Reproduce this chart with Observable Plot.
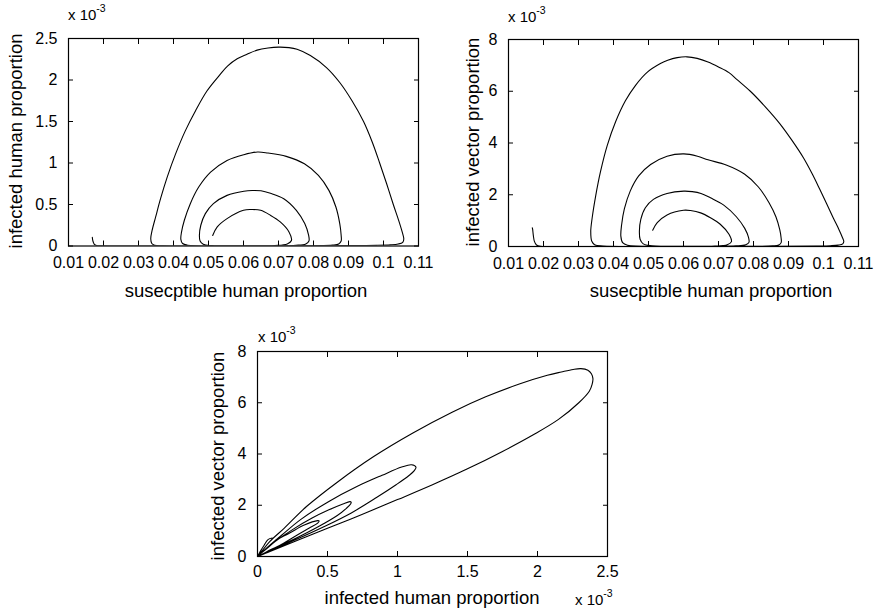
<!DOCTYPE html>
<html>
<head>
<meta charset="utf-8">
<script src="https://cdn.jsdelivr.net/npm/d3@7"></script>
<script src="https://cdn.jsdelivr.net/npm/@observablehq/plot@0.6"></script>
<style>
  body { margin: 0; background: #fff; }
  #fig { position: relative; width: 877px; height: 614px; overflow: hidden; background: #fff;
         font-family: "Liberation Sans", Arial, Helvetica, sans-serif; color: #000; }
  #fig svg { position: absolute; }
</style>
</head>
<body>
<div id="fig"></div>
<script>
// One simulated trajectory of the host–vector model, sampled in time.
// Infected proportions are in units of 1e-3.
const susceptible = [
  0.0168, 0.0169, 0.0171, 0.0174, 0.0180, 0.0192, 0.030, 0.050, 0.070, 0.088, 0.098,
  0.1020, 0.1042, 0.1055, 0.1058, 0.1054, 0.1044, 0.1028, 0.1009, 0.0989, 0.0968, 0.0943, 0.0910, 0.0875, 0.0837, 0.0791, 0.0753, 0.0730, 0.0700,
  0.0670, 0.0639, 0.0610, 0.0582, 0.0555, 0.0534, 0.0496, 0.0463, 0.0434, 0.0406, 0.0382, 0.0363, 0.0349, 0.0339, 0.0335, 0.0338, 0.0346, 0.0370,
  0.050, 0.070, 0.080, 0.0855, 0.0872,
  0.0879, 0.0879, 0.0875, 0.0864, 0.0844, 0.0814, 0.0774, 0.0722, 0.0670, 0.0640,
  0.0601, 0.0553, 0.0506, 0.0472, 0.0448, 0.0431, 0.0423, 0.0421, 0.0426, 0.0440,
  0.055, 0.068, 0.0750, 0.0778,
  0.0787, 0.0786, 0.0775, 0.0751, 0.0715, 0.0677, 0.0650, 0.0625,
  0.0601, 0.0553, 0.0514, 0.0491, 0.0478, 0.0474, 0.0476, 0.0485, 0.0510,
  0.060, 0.0690, 0.0725,
  0.0737, 0.0730, 0.0705, 0.0677, 0.0649, 0.0620,
  0.0600, 0.0553, 0.0525, 0.0512
];
const infectedHuman = [
  0.105, 0.075, 0.045, 0.020, 0.006, 0.001, 0, 0, 0.001, 0.004, 0.008,
  0.014, 0.024, 0.045, 0.085, 0.16, 0.30, 0.50, 0.75, 1.00, 1.25, 1.50, 1.75, 1.97, 2.15, 2.295, 2.37, 2.39, 2.396,
  2.385, 2.36, 2.31, 2.255, 2.17, 2.07, 1.87, 1.63, 1.39, 1.11, 0.83, 0.57, 0.35, 0.19, 0.087, 0.03, 0.01, 0.003,
  0, 0.001, 0.003, 0.010, 0.025,
  0.06, 0.13, 0.27, 0.47, 0.67, 0.85, 0.99, 1.08, 1.12, 1.132,
  1.10, 1.03, 0.89, 0.71, 0.51, 0.31, 0.17, 0.08, 0.03, 0.01,
  0.001, 0.002, 0.008, 0.025,
  0.06, 0.13, 0.27, 0.43, 0.57, 0.635, 0.665, 0.669,
  0.66, 0.61, 0.51, 0.39, 0.25, 0.13, 0.06, 0.02, 0.005,
  0.002, 0.006, 0.025,
  0.066, 0.17, 0.29, 0.37, 0.43, 0.44,
  0.43, 0.33, 0.23, 0.127
];
const infectedVector = [
  0.72, 0.66, 0.42, 0.20, 0.06, 0.01, 0, 0, 0.002, 0.008, 0.018,
  0.030, 0.053, 0.10, 0.19, 0.35, 0.66, 1.10, 1.65, 2.22, 2.80, 3.42, 4.10, 4.75, 5.35, 6.00, 6.45, 6.72, 6.94,
  7.13, 7.27, 7.33, 7.30, 7.20, 7.07, 6.73, 6.23, 5.63, 4.82, 3.90, 2.90, 1.95, 1.10, 0.58, 0.20, 0.07, 0.02,
  0.002, 0.002, 0.007, 0.025, 0.06,
  0.15, 0.32, 0.65, 1.15, 1.70, 2.30, 2.80, 3.15, 3.35, 3.49,
  3.58, 3.49, 3.17, 2.73, 2.15, 1.45, 0.82, 0.40, 0.15, 0.05,
  0.005, 0.006, 0.024, 0.07,
  0.16, 0.34, 0.70, 1.15, 1.60, 1.88, 2.05, 2.12,
  2.14, 2.05, 1.82, 1.50, 1.05, 0.60, 0.28, 0.10, 0.03,
  0.005, 0.016, 0.07,
  0.19, 0.47, 0.86, 1.11, 1.30, 1.39,
  1.40, 1.22, 0.92, 0.63
];

// Axis ticks
const susceptibleTicks = [0.01, 0.02, 0.03, 0.04, 0.05, 0.06, 0.07, 0.08, 0.09, 0.1, 0.11];
const humanTicks = [0, 0.5, 1, 1.5, 2, 2.5];
const vectorTicks = [0, 2, 4, 6, 8];

const trajectory = susceptible.map((s, i) => ({s, ih: infectedHuman[i], iv: infectedVector[i]}));

const fig = document.getElementById("fig");
const FONT = '"Liberation Sans", Arial, Helvetica, sans-serif';

function panel({x, y, xDomain, yDomain, xTicks, yTicks, left, top, width, height, xPad}) {
  const mL = 60, mT = 10, mR = 10, mB = 40;
  const chart = Plot.plot({
    width: mL + width + mR,
    height: mT + height + mB,
    marginLeft: mL, marginTop: mT, marginRight: mR, marginBottom: mB,
    x: {domain: xDomain},
    y: {domain: yDomain},
    style: {fontFamily: FONT, fontSize: "16px", color: "black", background: "transparent", overflow: "visible"},
    marks: [
      Plot.line(trajectory, {x, y, stroke: "black", strokeWidth: 1.1, curve: "catmull-rom", clip: true}),
      Plot.frame({stroke: "black", strokeWidth: 1.2}),
      // inward ticks on all four sides
      Plot.axisX(xTicks, {anchor: "bottom", tickSize: 5, dy: -5, fill: "none", label: null}),
      Plot.axisX(xTicks, {anchor: "top", tickSize: 5, dy: 5, fill: "none", label: null}),
      Plot.axisY(yTicks, {anchor: "left", tickSize: 5, dx: 5, fill: "none", label: null}),
      Plot.axisY(yTicks, {anchor: "right", tickSize: 5, dx: -5, fill: "none", label: null}),
      // tick labels
      Plot.axisX(xTicks, {anchor: "bottom", tickSize: 0, tickPadding: xPad, tickFormat: d => String(d), label: null, fontSize: 16}),
      Plot.axisY(yTicks, {anchor: "left", tickSize: 0, tickPadding: 11, tickFormat: d => String(d), label: null, fontSize: 16})
    ]
  });
  chart.style.left = (left - mL) + "px";
  chart.style.top = (top - mT) + "px";
  fig.appendChild(chart);
}

panel({x: "s", y: "ih", xDomain: [0.01, 0.11], yDomain: [0, 2.5], xTicks: susceptibleTicks, yTicks: humanTicks,
       left: 68, top: 38, width: 350, height: 207.5, xPad: 11});
panel({x: "s", y: "iv", xDomain: [0.01, 0.11], yDomain: [0, 8], xTicks: susceptibleTicks, yTicks: vectorTicks,
       left: 508.3, top: 38.5, width: 350, height: 207, xPad: 11});
panel({x: "ih", y: "iv", xDomain: [0, 2.5], yDomain: [0, 8], xTicks: humanTicks, yTicks: vectorTicks,
       left: 256.5, top: 351, width: 350, height: 205, xPad: 9});

// Axis titles and scale multipliers
const overlay = d3.select(fig).append("svg")
  .attr("width", 877).attr("height", 614)
  .style("left", "0px").style("top", "0px")
  .style("font-family", FONT);

const titles = [
  {text: "susecptible human proportion", x: 246, y: 290, rot: false},
  {text: "infected human proportion", x: 15, y: 141, rot: true},
  {text: "susecptible human proportion", x: 711, y: 290, rot: false},
  {text: "infected vector proportion", x: 472, y: 142, rot: true},
  {text: "infected human proportion", x: 432, y: 597, rot: false},
  {text: "infected vector proportion", x: 217, y: 456, rot: true}
];
overlay.selectAll("text.title").data(titles).join("text")
  .attr("class", "title")
  .attr("transform", d => `translate(${d.x},${d.y})` + (d.rot ? " rotate(-90)" : ""))
  .attr("text-anchor", "middle")
  .attr("dominant-baseline", "central")
  .attr("font-size", 18.5)
  .text(d => d.text);

const multipliers = [
  {x: 68, y: 20}, {x: 508, y: 21.5}, {x: 258, y: 341.5}, {x: 575, y: 605}
];
const m = overlay.selectAll("text.mult").data(multipliers).join("text")
  .attr("class", "mult")
  .attr("x", d => d.x).attr("y", d => d.y)
  .attr("font-size", 15);
m.append("tspan").text("x 10");
m.append("tspan").attr("font-size", 10.5).attr("dy", -8).text("-3");
</script>
</body>
</html>
